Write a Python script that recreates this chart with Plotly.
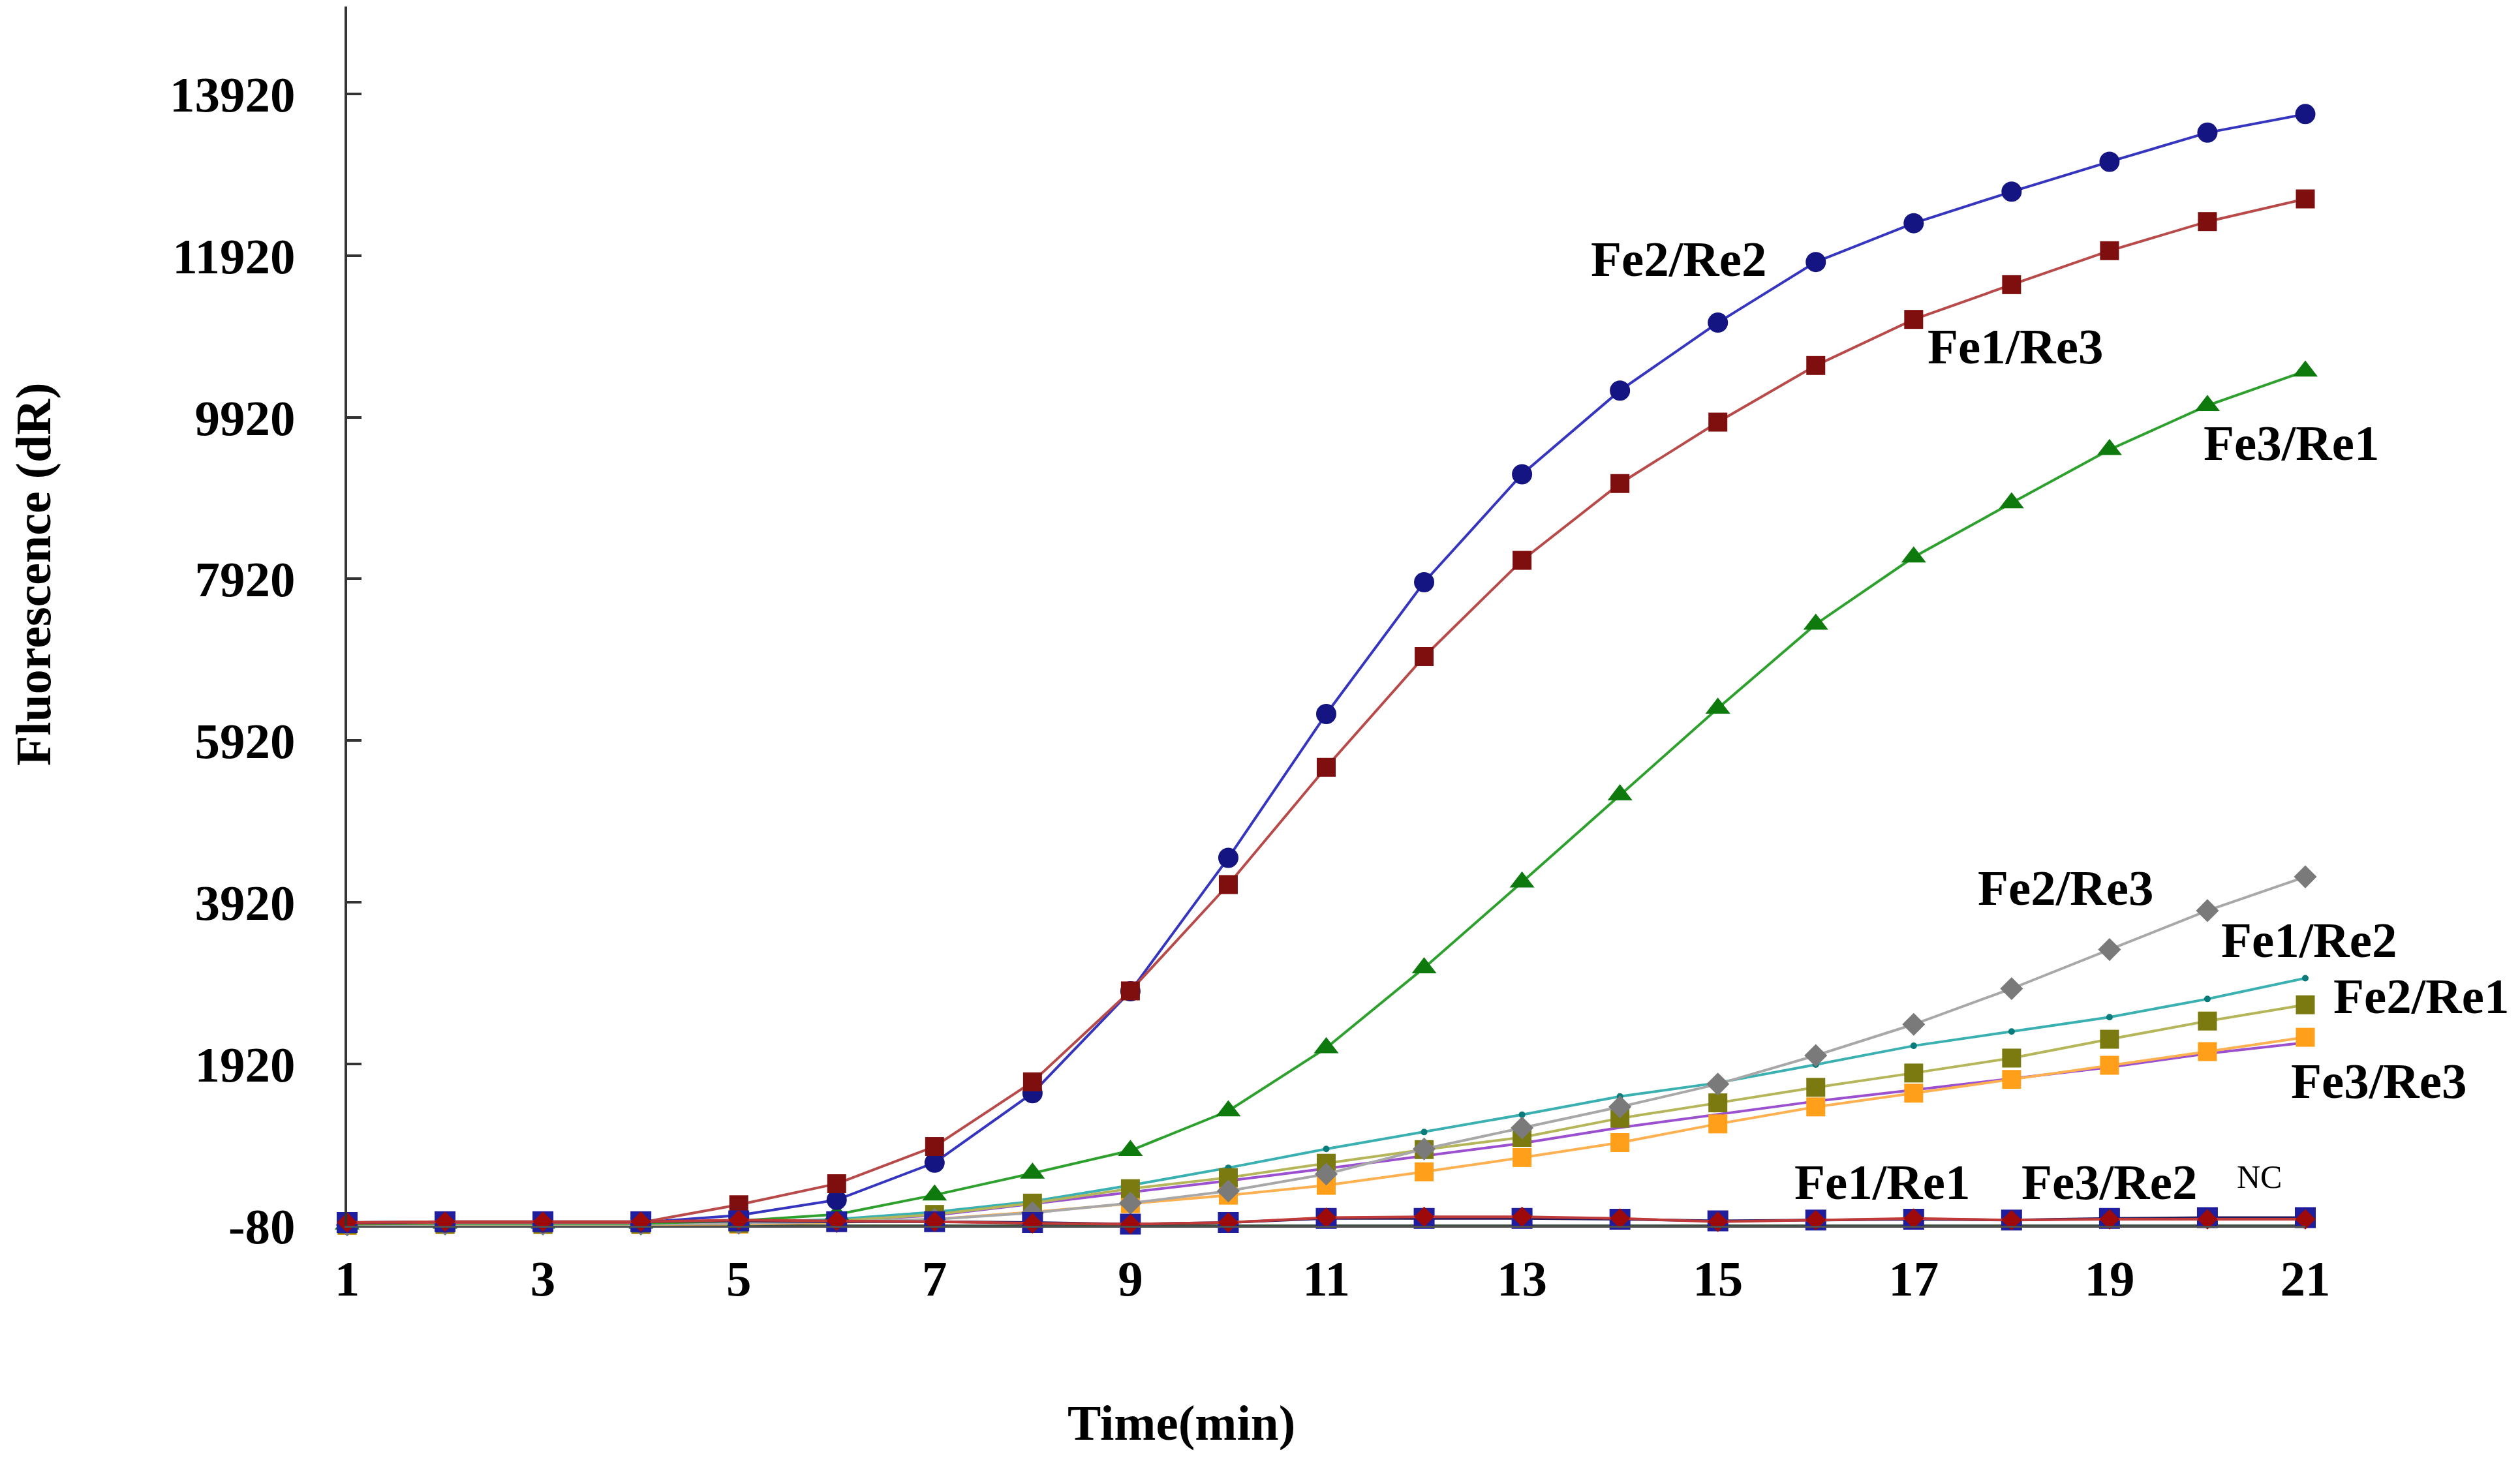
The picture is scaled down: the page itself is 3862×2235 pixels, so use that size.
import plotly.graph_objects as go

# time points (min)
time_min = list(range(1, 22))

# fluorescence (dR)
fe2_re2 = [-40, -40, -40, -40, 50, 240, 700, 1560, 2820, 4470, 6250, 7880, 9215, 10250,
           11090, 11840, 12320, 12710, 13080, 13440, 13670]
fe1_re3 = [-50, -40, -40, -40, 180, 440, 900, 1700, 2825, 4140, 5590, 6960, 8150, 9100,
           9860, 10560, 11130, 11560, 11980, 12340, 12620]
fe3_re1 = [-60, -50, -50, -50, -20, 60, 300, 570, 850, 1340, 2120, 3110, 4170, 5250,
           6320, 7360, 8190, 8860, 9520, 10065, 10490]
fe2_re3 = [-70, -60, -60, -60, -50, -30, 0, 80, 200, 350, 560, 870, 1130, 1390,
           1672, 2026, 2411, 2853, 3336, 3818, 4236]
fe1_re2 = [-70, -60, -60, -60, -40, 0, 90, 220, 420, 637, 870, 1079, 1294, 1520,
           1688, 1913, 2146, 2323, 2500, 2725, 2982]
fe2_re1 = [-70, -60, -60, -60, -50, -20, 60, 200, 379, 516, 693, 862, 1013, 1250,
           1440, 1632, 1809, 1994, 2227, 2452, 2653]
fe3_re3 = [-75, -65, -65, -65, -60, -40, 0, 90, 194, 298, 420, 587, 764, 949,
           1180, 1390, 1560, 1730, 1905, 2074, 2251]
unlabeled = [-70, -60, -60, -60, -50, -20, 50, 190, 331, 476, 628, 781, 941, 1134,
             1300, 1460, 1600, 1740, 1881, 2050, 2186]
fe1_re1 = [-40, -30, -30, -30, -20, -30, -30, -40, -60, -40, 10, 10, 10, 0,
           -20, -10, 0, -10, 10, 20, 20]
fe3_re2 = [-40, -30, -30, -30, -10, -20, -30, -50, -60, -40, 20, 30, 30, 10,
           -30, -10, 10, -10, 0, 0, 0]
nc = [-70, -70, -75, -75, -75, -80, -80, -80, -85, -85, -80, -80, -80, -80,
      -85, -80, -80, -80, -80, -80, -80]

x_ticks = [1, 3, 5, 7, 9, 11, 13, 15, 17, 19, 21]
y_ticks = [-80, 1920, 3920, 5920, 7920, 9920, 11920, 13920]
y_tick_text = [str(v) for v in y_ticks]

FONT = "Liberation Serif, Times New Roman, serif"

fig = go.Figure()

def add_series(y, line_color, marker_color=None, symbol="circle", size=0):
    mode = "lines+markers" if marker_color else "lines"
    fig.add_trace(go.Scatter(
        x=time_min, y=y, mode=mode,
        line=dict(color=line_color, width=4),
        marker=dict(symbol=symbol, size=size, color=marker_color or line_color,
                    line=dict(width=0)),
        cliponaxis=False, showlegend=False,
    ))

add_series(nc, "#3c5040")
add_series(unlabeled, "#9b50d0")
add_series(fe3_re3, "#ffb050", "#ff9f1a", "square", 29)
add_series(fe1_re2, "#3ab0b0", "#0a7a7a", "circle", 10)
add_series(fe2_re1, "#b5b55a", "#7a7a10", "square", 29)
add_series(fe2_re3, "#a8a8a8", "#7a7a7a", "diamond", 27)
add_series(fe3_re1, "#2da02d", "#0e7a0e", "triangle-up", 33)
add_series(fe2_re2, "#3535c0", "#141482", "circle", 31)
add_series(fe1_re3, "#b84a4a", "#7f0f0f", "square", 29)
add_series(fe1_re1, "#2a1a5a", "#1e1e9e", "square", 32)
add_series(fe3_re2, "#c03a3a", "#9e0a0a", "diamond", 24)

# curve labels
labels = [
    ("Fe2/Re2", 14.6, 11880, 0, 77, "bold"),
    ("Fe1/Re3", 18.04, 10800, 0, 77, "bold"),
    ("Fe3/Re1", 20.86, 9600, 0, 77, "bold"),
    ("Fe2/Re3", 18.55, 4100, 0, 77, "bold"),
    ("Fe1/Re2", 21, 3456, 5, 77, "bold"),
    ("Fe2/Re1", 21, 2757, 177, 77, "bold"),
    ("Fe3/Re3", 21, 1712, 112, 77, "bold"),
    ("Fe1/Re1", 16.68, 458, 0, 77, "bold"),
    ("Fe3/Re2", 19.0, 458, 0, 77, "bold"),
    ("NC", 20.53, 523, 0, 50, "normal"),
]
for text, lx, ly, shift, size, weight in labels:
    fig.add_annotation(
        x=lx, y=ly, xref="x", yref="y", text=text, showarrow=False,
        xshift=shift, xanchor="center", yanchor="middle",
        font=dict(family=FONT, size=size, color="black", weight=weight),
    )

# axis titles
fig.add_annotation(
    x=0.426, y=0, xref="paper", yref="paper", yshift=-302,
    text="Time(min)", showarrow=False, xanchor="center", yanchor="middle",
    font=dict(family=FONT, size=77, color="black", weight="bold"),
)
fig.add_annotation(
    x=0, y=0.534, xref="paper", yref="paper", xshift=-480,
    text="Fluorescence (dR)", showarrow=False, textangle=-90,
    xanchor="center", yanchor="middle",
    font=dict(family=FONT, size=76, color="black", weight="bold"),
)

fig.update_xaxes(
    range=[1, 21], tickvals=x_ticks, showgrid=False, zeroline=False,
    showline=True, linecolor="#505050", linewidth=3, ticks="",
    ticklabelstandoff=12,
    tickfont=dict(family=FONT, size=77, color="black", weight="bold"),
)
fig.update_yaxes(
    range=[-80, 15000], tickvals=y_ticks, ticktext=y_tick_text,
    showgrid=False, zeroline=False,
    showline=True, linecolor="#333333", linewidth=4,
    ticks="inside", ticklen=22, tickwidth=4, tickcolor="#333333",
    ticklabelstandoff=60,
    tickfont=dict(family=FONT, size=77, color="black", weight="bold"),
)

fig.update_layout(
    width=3862, height=2235,
    margin=dict(l=524, r=337, t=2, b=364),
    plot_bgcolor="white", paper_bgcolor="white",
)

fig.write_html("out.html")
